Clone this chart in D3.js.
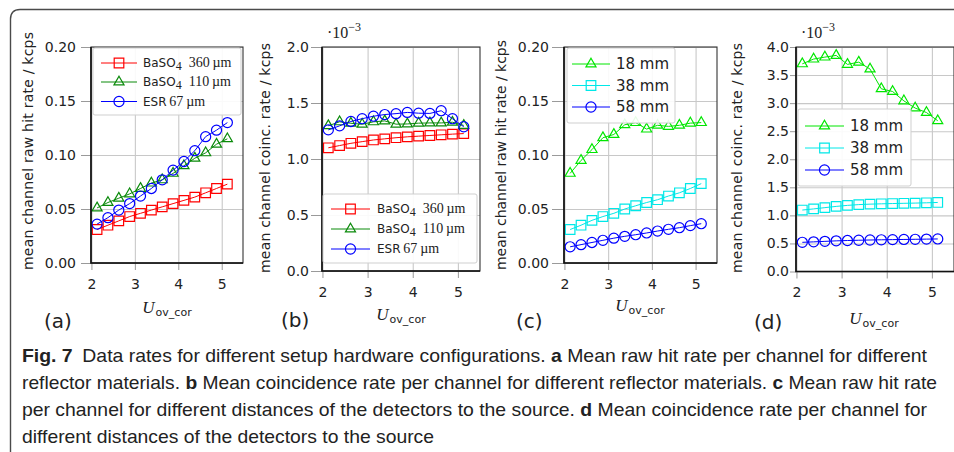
<!DOCTYPE html>
<html>
<head>
<meta charset="utf-8">
<script src="https://cdn.jsdelivr.net/npm/d3@7"></script>
<style>
body { margin: 0; background: #fff; }
svg { display: block; }
</style>
</head>
<body>
<svg id="fig" width="954" height="452"></svg>
<script>
// overvoltage steps (x), shared by all panels
const uOv = [2.13, 2.38, 2.63, 2.88, 3.13, 3.38, 3.63, 3.88, 4.13, 4.38, 4.63, 4.88, 5.13];

// (a) raw hit rate, reflector materials
const rawBaso360 = [0.031, 0.035, 0.039, 0.043, 0.046, 0.049, 0.052, 0.055, 0.058, 0.061, 0.065, 0.069, 0.073];
const rawBaso110 = [0.051, 0.056, 0.060, 0.064, 0.069, 0.074, 0.077, 0.083, 0.090, 0.097, 0.102, 0.110, 0.115];
const rawEsr67   = [0.036, 0.042, 0.049, 0.055, 0.062, 0.069, 0.077, 0.086, 0.094, 0.104, 0.117, 0.123, 0.130];

// (b) coincidence rate (x1e-3), reflector materials
const coincBaso360 = [1.100, 1.120, 1.140, 1.155, 1.170, 1.180, 1.190, 1.198, 1.204, 1.210, 1.216, 1.222, 1.227];
const coincBaso110 = [1.297, 1.332, 1.319, 1.310, 1.332, 1.340, 1.311, 1.313, 1.320, 1.322, 1.322, 1.328, 1.300];
const coincEsr67   = [1.260, 1.296, 1.335, 1.360, 1.382, 1.397, 1.405, 1.416, 1.409, 1.407, 1.431, 1.360, 1.288];

// (c) raw hit rate, source distances
const raw18mm = [0.083, 0.095, 0.105, 0.116, 0.119, 0.128, 0.130, 0.124, 0.1275, 0.1265, 0.1275, 0.1295, 0.130];
const raw38mm = [0.031, 0.035, 0.0395, 0.043, 0.046, 0.050, 0.053, 0.056, 0.0586, 0.062, 0.065, 0.069, 0.0735];
const raw58mm = [0.015, 0.017, 0.019, 0.021, 0.023, 0.0247, 0.0262, 0.0278, 0.0296, 0.0312, 0.0327, 0.0346, 0.0364];

// (d) coincidence rate (x1e-3), source distances
const coinc18mm = [3.700, 3.785, 3.820, 3.850, 3.690, 3.730, 3.607, 3.255, 3.207, 3.040, 2.912, 2.832, 2.686];
const coinc38mm = [1.095, 1.115, 1.138, 1.160, 1.178, 1.192, 1.200, 1.206, 1.211, 1.215, 1.219, 1.224, 1.230];
const coinc58mm = [0.520, 0.528, 0.537, 0.546, 0.552, 0.557, 0.561, 0.565, 0.568, 0.571, 0.574, 0.577, 0.580];

// ticks
const xTicks = [2, 3, 4, 5];
const rateTicks = [0, 0.05, 0.10, 0.15, 0.20];
const coincTicksB = [0, 0.5, 1.0, 1.5, 2.0];
const coincTicksD = [0, 0.5, 1.0, 1.5, 2.0, 2.5, 3.0, 3.5, 4.0];

// legend labels
const reflectorLabels = [
	[["BaSO", "sans"], ["4", "sub"], ["\u2002360\u2009\u00b5m", "serif"]],
	[["BaSO", "sans"], ["4", "sub"], ["\u2002110\u2009\u00b5m", "serif"]],
	[["ESR", "sans"], ["\u200967\u2009\u00b5m", "serif"]]
];
const distanceLabels = ["18 mm", "38 mm", "58 mm"];
const rawLabel = "mean channel raw hit rate  /  kcps";
const coincLabel = "mean channel coinc. rate  /  kcps";
const captionLines = [
	[["Fig. 7", true], ["\u2002Data rates for different setup hardware configurations. ", false], ["a", true], [" Mean raw hit rate per channel for different", false]],
	[["reflector materials. ", false], ["b", true], [" Mean coincidence rate per channel for different reflector materials. ", false], ["c", true], [" Mean raw hit rate", false]],
	[["per channel for different distances of the detectors to the source. ", false], ["d", true], [" Mean coincidence rate per channel for", false]],
	[["different distances of the detectors to the source", false]]
];

const SANS = "'DejaVu Sans', sans-serif";
const SERIF = "'Liberation Serif', 'DejaVu Serif', serif";
const CAPF = "'Liberation Sans', Arial, sans-serif";

const symSquare = d3.symbol().type(d3.symbolSquare).size(92);
const symTri = d3.symbol().type(d3.symbolTriangle).size(44);
const symCircle = d3.symbol().type(d3.symbolCircle).size(80);

const reflectorSeries = (a, b, c) => [
	{vals: a, color: "#ff0000", sym: symSquare, label: reflectorLabels[0]},
	{vals: b, color: "#0a8a0a", sym: symTri, label: reflectorLabels[1]},
	{vals: c, color: "#0000ff", sym: symCircle, label: reflectorLabels[2]}
];
const distanceSeries = (a, b, c) => [
	{vals: a, color: "#00e600", sym: symTri, label: distanceLabels[0]},
	{vals: b, color: "#00e8e8", sym: symSquare, label: distanceLabels[1]},
	{vals: c, color: "#0000ff", sym: symCircle, label: distanceLabels[2]}
];

const panels = [
	{tag: "(a)", x0: 91, x1: 243, yb: 263, yt: 47, ymax: 0.2, yticks: rateTicks, fmt: ".2f",
	 ylabel: rawLabel, ylx: 28, yly: 151, ylLen: 238, tickLen: 10, tickPad: 5, exp: false,
	 xlab: {x: 167, y: 313}, tagPos: {x: 44, y: 328},
	 series: reflectorSeries(rawBaso360, rawBaso110, rawEsr67),
	 legend: {x: 93, y: 48, w: 148, h: 67, rows: [63, 82, 101.5], l0: 101, l1: 137, tx: 143, fs: 12}},
	{tag: "(b)", x0: 322, x1: 480, yb: 271, yt: 47, ymax: 2, yticks: coincTicksB, fmt: ".1f",
	 ylabel: coincLabel, ylx: 265, yly: 158, ylLen: 230, tickLen: 11, tickPad: 2, exp: true, expX: 327,
	 xlab: {x: 401, y: 320}, tagPos: {x: 281, y: 327},
	 series: reflectorSeries(coincBaso360, coincBaso110, coincEsr67),
	 legend: {x: 323, y: 194, w: 154, h: 69, rows: [209, 229, 249], l0: 331, l1: 370, tx: 377, fs: 12}},
	{tag: "(c)", x0: 564, x1: 717, yb: 263, yt: 47, ymax: 0.2, yticks: rateTicks, fmt: ".2f",
	 ylabel: rawLabel, ylx: 501, yly: 155, ylLen: 230, tickLen: 12, tickPad: 3, exp: false,
	 xlab: {x: 640, y: 311}, tagPos: {x: 516, y: 328},
	 series: distanceSeries(raw18mm, raw38mm, raw58mm),
	 legend: {x: 567, y: 48, w: 108, h: 75, rows: [64, 85.5, 107], l0: 572, l1: 610, tx: 616, fs: 15}},
	{tag: "(d)", x0: 796, x1: 954, yb: 271.5, yt: 47, ymax: 4, yticks: coincTicksD, fmt: ".1f",
	 ylabel: coincLabel, ylx: 737, yly: 158, ylLen: 230, tickLen: 6, tickPad: 1, exp: true, expX: 801,
	 xlab: {x: 874, y: 324}, tagPos: {x: 754, y: 329},
	 series: distanceSeries(coinc18mm, coinc38mm, coinc58mm),
	 legend: {x: 798, y: 109, w: 113, h: 77, rows: [126, 148, 170], l0: 805, l1: 844, tx: 850, fs: 15}}
];

const svg = d3.select("#fig");

// outer frame with rounded top-left corner
svg.append("path")
	.attr("d", "M10.5,452 L10.5,19 Q10.5,9.5 20,9.5 L954,9.5")
	.attr("fill", "none")
	.attr("stroke", "#4a4a4a")
	.attr("stroke-width", 1.4);

panels.forEach(function(p){
	const x = d3.scaleLinear().domain([1.99, 5.49]).range([p.x0, p.x1]);
	const y = d3.scaleLinear().domain([0, p.ymax]).range([p.yb, p.yt]);
	const g = svg.append("g");

	// grid
	g.append("g")
		.attr("transform", "translate(0," + p.yb + ")")
		.call(d3.axisBottom(x).tickValues(xTicks).tickSize(-(p.yb - p.yt)).tickFormat(""))
		.call(s => s.select(".domain").remove())
		.call(s => s.selectAll("line").attr("stroke", "#c8c8c8").attr("stroke-width", 1.1));
	g.append("g")
		.attr("transform", "translate(" + p.x0 + ",0)")
		.call(d3.axisLeft(y).tickValues(p.yticks).tickSize(-(p.x1 - p.x0)).tickFormat(""))
		.call(s => s.select(".domain").remove())
		.call(s => s.selectAll("line").attr("stroke", "#c8c8c8").attr("stroke-width", 1.1));

	// axes ticks + labels
	const xa = g.append("g")
		.attr("transform", "translate(0," + p.yb + ")")
		.call(d3.axisBottom(x).tickValues(xTicks).tickSize(7).tickPadding(9).tickFormat(d3.format("d")));
	xa.select(".domain").remove();
	xa.selectAll("line").attr("stroke", "#9a9a9a");
	xa.selectAll("text").attr("font-family", SANS).attr("font-size", 14).attr("fill", "#222");

	const ya = g.append("g")
		.attr("transform", "translate(" + p.x0 + ",0)")
		.call(d3.axisLeft(y).tickValues(p.yticks).tickSize(p.tickLen).tickPadding(p.tickPad).tickFormat(d3.format(p.fmt)));
	ya.select(".domain").remove();
	ya.selectAll("line").attr("stroke", "#9a9a9a");
	ya.selectAll("text").attr("font-family", SANS).attr("font-size", 14).attr("fill", "#222");

	// data
	const clipId = "clip" + p.tag.charAt(1);
	svg.append("clipPath").attr("id", clipId)
		.append("rect").attr("x", p.x0).attr("y", p.yt).attr("width", p.x1 - p.x0).attr("height", p.yb - p.yt);
	const dg = g.append("g").attr("clip-path", "url(#" + clipId + ")");
	const line = d3.line().x((d, i) => x(uOv[i])).y(d => y(d));
	p.series.forEach(function(s){
		dg.append("path")
			.attr("d", line(s.vals))
			.attr("fill", "none")
			.attr("stroke", s.color)
			.attr("stroke-width", 1);
		dg.selectAll(null)
			.data(s.vals)
			.enter()
			.append("path")
				.attr("d", s.sym)
				.attr("transform", (d, i) => "translate(" + x(uOv[i]) + "," + y(d) + ")")
				.attr("fill", "none")
				.attr("stroke", s.color)
				.attr("stroke-width", 1.2);
	});

	// frame
	g.append("rect")
		.attr("x", p.x0).attr("y", p.yt)
		.attr("width", p.x1 - p.x0).attr("height", p.yb - p.yt)
		.attr("fill", "none").attr("stroke", "#333").attr("stroke-width", 1.1);
	g.append("path")
		.attr("d", "M" + p.x0 + "," + p.yt + "V" + p.yb + "H" + p.x1)
		.attr("fill", "none").attr("stroke", "#111").attr("stroke-width", 1.6);

	// legend
	const L = p.legend;
	const lg = g.append("g");
	lg.append("rect")
		.attr("x", L.x).attr("y", L.y).attr("width", L.w).attr("height", L.h)
		.attr("rx", 2)
		.attr("fill", "#fff").attr("fill-opacity", 0.9)
		.attr("stroke", "#cfcfcf").attr("stroke-width", 1);
	p.series.forEach(function(s, i){
		const ry = L.rows[i];
		lg.append("line")
			.attr("x1", L.l0).attr("x2", L.l1).attr("y1", ry).attr("y2", ry)
			.attr("stroke", s.color).attr("stroke-width", 1);
		lg.append("path")
			.attr("d", s.sym)
			.attr("transform", "translate(" + ((L.l0 + L.l1) / 2) + "," + ry + ")")
			.attr("fill", "none").attr("stroke", s.color).attr("stroke-width", 1.2);
		const t = lg.append("text")
			.attr("x", L.tx).attr("y", ry)
			.attr("dy", "0.36em")
			.attr("font-size", L.fs)
			.attr("fill", "#222");
		if (typeof s.label === "string") {
			t.attr("font-family", SANS).text(s.label);
		} else {
			let shifted = false;
			s.label.forEach(function(part){
				const ts = t.append("tspan").text(part[0]);
				if (part[1] === "sub") {
					ts.attr("font-family", SERIF).attr("font-size", L.fs).attr("dy", 3);
					shifted = true;
				} else {
					ts.attr("font-family", part[1] === "serif" ? SERIF : SANS)
						.attr("font-size", part[1] === "serif" ? L.fs + 2 : L.fs);
					if (shifted) { ts.attr("dy", -3); shifted = false; }
				}
			});
		}
	});

	// y label
	g.append("text")
		.attr("transform", "translate(" + p.ylx + "," + p.yly + ") rotate(-90)")
		.attr("text-anchor", "middle")
		.attr("dy", "0.35em")
		.attr("font-family", SANS)
		.attr("font-size", 14)
		.attr("fill", "#222")
		.attr("textLength", p.ylLen)
		.text(p.ylabel);

	// x label
	const xl = g.append("text")
		.attr("x", p.xlab.x).attr("y", p.xlab.y)
		.attr("text-anchor", "middle")
		.attr("fill", "#222");
	xl.append("tspan").attr("font-family", SERIF).attr("font-style", "italic").attr("font-size", 17).text("U");
	xl.append("tspan").attr("font-family", SANS).attr("font-size", 11).attr("dx", 1).attr("dy", 3).text("ov_cor");

	// exponent
	if (p.exp) {
		const ex = g.append("text")
			.attr("x", p.expX).attr("y", 38)
			.attr("font-family", SERIF)
			.attr("font-size", 16)
			.attr("fill", "#222");
		ex.append("tspan").text("\u00b710");
		ex.append("tspan").attr("font-size", 12).attr("dy", -7).text("\u22123");
	}

	// panel tag
	g.append("text")
		.attr("x", p.tagPos.x).attr("y", p.tagPos.y)
		.attr("font-family", SANS)
		.attr("font-size", 20)
		.attr("fill", "#222")
		.text(p.tag);
});

// caption: narrow-looking text, stretched vertically
const capEnds = [927, 937, 927, 434];
captionLines.forEach(function(parts, i){
	const t = svg.append("text")
		.attr("transform", "translate(22," + (362 + i * 27) + ") scale(1,1.2)")
		.attr("x", 0)
		.attr("y", 0)
		.attr("font-family", CAPF)
		.attr("font-size", 16)
		.attr("fill", "#222")
		.attr("textLength", capEnds[i] - 22)
		.attr("lengthAdjust", "spacingAndGlyphs");
	parts.forEach(function(pt){
		t.append("tspan").attr("font-weight", pt[1] ? "bold" : "normal").text(pt[0]);
	});
});
</script>
</body>
</html>
